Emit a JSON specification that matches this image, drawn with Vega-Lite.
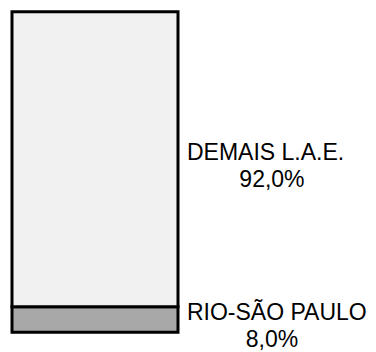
{
  "$schema": "https://vega.github.io/schema/vega-lite/v6.json",
  "width": 376,
  "height": 352,
  "autosize": {"type": "fit", "contains": "padding"},
  "padding": 0,
  "background": "white",
  "config": {"view": {"stroke": null}},
  "data": {
    "values": [
      {"segment": "RIO-SÃO PAULO", "share": 8.0, "order": 1},
      {"segment": "DEMAIS L.A.E.", "share": 92.0, "order": 2}
    ]
  },
  "transform": [
    {"stack": "share", "groupby": [], "sort": [{"field": "order"}], "as": ["y0", "y1"]},
    {"calculate": "(datum.y0 + datum.y1) / 2", "as": "mid"},
    {"calculate": "replace(format(datum.share, '.1f'), '.', ',') + '%'", "as": "pct"}
  ],
  "layer": [
    {
      "mark": {"type": "rect", "stroke": "black", "strokeWidth": 3},
      "encoding": {
        "x": {"datum": 0, "type": "quantitative", "scale": {"domain": [-0.0723, 2.1928], "nice": false, "zero": false}, "axis": null},
        "x2": {"datum": 1},
        "y": {"field": "y0", "type": "quantitative", "scale": {"domain": [-3.66, 103.66], "nice": false, "zero": false}, "axis": null},
        "y2": {"field": "y1"},
        "fill": {
          "field": "segment", "type": "nominal",
          "scale": {"domain": ["RIO-SÃO PAULO", "DEMAIS L.A.E."], "range": ["#a8a8a8", "#f1f1f1"]},
          "legend": null
        }
      }
    },
    {
      "mark": {"type": "text", "align": "left", "baseline": "alphabetic", "font": "Liberation Sans", "fontSize": 23, "color": "black", "dy": 1},
      "encoding": {
        "x": {"datum": 1.054, "type": "quantitative"},
        "y": {"field": "mid", "type": "quantitative"},
        "text": {"field": "segment"}
      }
    },
    {
      "mark": {"type": "text", "align": "center", "baseline": "alphabetic", "font": "Liberation Sans", "fontSize": 23, "color": "black", "dy": 28},
      "encoding": {
        "x": {"datum": 1.566, "type": "quantitative"},
        "y": {"field": "mid", "type": "quantitative"},
        "text": {"field": "pct"}
      }
    }
  ]
}
